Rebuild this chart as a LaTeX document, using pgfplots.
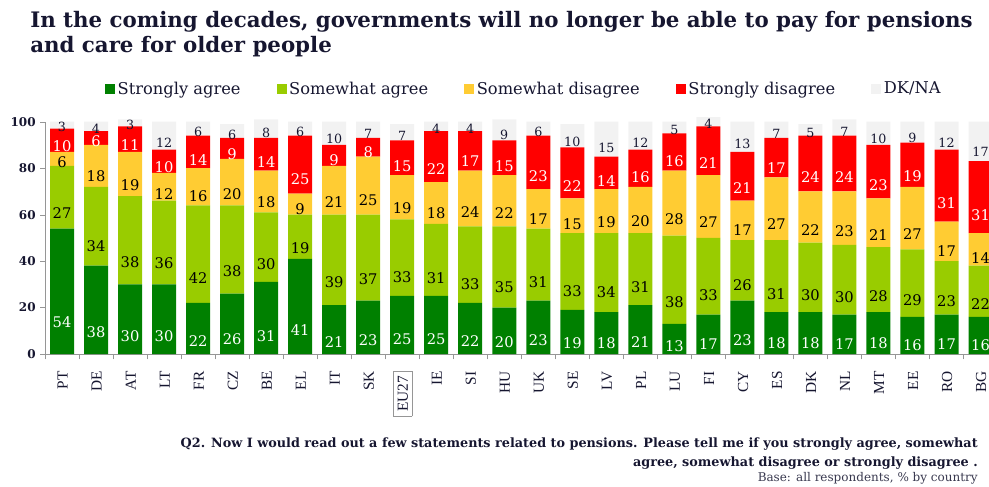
\documentclass[border=0pt]{standalone}
\usepackage{pgfplots}
\usepackage{pgfplotstable}
\pgfplotsset{compat=1.18}
\usepackage{fontspec}
\setmainfont{DejaVu Serif}
\newfontfamily\tickfont{Liberation Serif}
\definecolor{cSA}{RGB}{0,128,0}
\definecolor{cSwA}{RGB}{153,204,0}
\definecolor{cSwD}{RGB}{255,204,51}
\definecolor{cSD}{RGB}{255,0,0}
\definecolor{cDK}{RGB}{242,242,242}
\definecolor{txt}{RGB}{22,22,48}
\definecolor{axc}{RGB}{150,150,150}
\pgfplotstableread{
idx sa swa swd sd dk
0 54 27 6 10 3
1 38 34 18 6 4
2 30 38 19 11 3
3 30 36 12 10 12
4 22 42 16 14 6
5 26 38 20 9 6
6 31 30 18 14 8
7 41 19 9 25 6
8 21 39 21 9 10
9 23 37 25 8 7
10 25 33 19 15 7
11 25 31 18 22 4
12 22 33 24 17 4
13 20 35 22 15 9
14 23 31 17 23 6
15 19 33 15 22 10
16 18 34 19 14 15
17 21 31 20 16 12
18 13 38 28 16 5
19 17 33 27 21 4
20 23 26 17 21 13
21 18 31 27 17 7
22 18 30 22 24 5
23 17 30 23 24 7
24 18 28 21 23 10
25 16 29 27 19 9
26 17 23 17 31 12
27 16 22 14 31 17
}\data
\pgfplotsset{
  lbl/.style n args={2}{
    nodes near coords={\pgfmathprintnumber{\val}},
    nodes near coords align={center},
    nodes near coords style={font=#1, text=#2, anchor=center, inner sep=0pt, yshift={-0.4355*\val}}
  }
}
\begin{document}
\begin{tikzpicture}
\begin{axis}[
  at={(33.75pt,99pt)}, anchor=south west,
  scale only axis, width=714.4pt, height=174.2pt,
  ybar stacked, bar width=18pt,
  xmin=-0.5, xmax=27.5, ymin=0, ymax=100,
  clip=false,
  visualization depends on={rawy \as \val},
  axis x line*=bottom, axis y line*=left,
  axis line style={draw=axc},
  xtick={0,...,27},
  xticklabels={PT,DE,AT,LT,FR,CZ,BE,EL,IT,SK,{\fcolorbox{axc}{white}{EU27}},IE,SI,HU,UK,SE,LV,PL,LU,FI,CY,ES,DK,NL,MT,EE,RO,BG},
  minor xtick={-0.5,0.5,...,27.5},
  major x tick style={draw=none},
  minor x tick style={draw=axc},
  tick align=outside,
  minor tick length=4pt,
  major tick length=3.5pt,
  ytick={0,20,...,100},
  y tick style={draw=axc},
  xticklabel style={font=\tickfont\fontsize{11.5}{12}\selectfont, rotate=90, anchor=east, text=txt, xshift=-6pt, yshift=-0.5pt},
  yticklabel style={font=\bfseries\fontsize{9}{10}\selectfont, text=txt},
  /pgf/number format/assume math mode=true,
  legend columns=5,
  legend style={at={(0.503,1.141)}, anchor=center, draw=none, fill=none,
    font=\fontsize{12.2}{14}\selectfont, text=txt,
    /tikz/every even column/.append style={column sep=25pt}},
  legend image code/.code={\fill[#1] (-2pt,-3.75pt) rectangle (5.5pt,3.75pt);},
]
\addplot[fill=cSA, draw=none, lbl={\fontsize{11}{12}\selectfont}{white}] table[x=idx,y=sa]{\data};
\addplot[fill=cSwA, draw=none, lbl={\fontsize{11}{12}\selectfont}{black}] table[x=idx,y=swa]{\data};
\addplot[fill=cSwD, draw=none, lbl={\fontsize{11}{12}\selectfont}{black}] table[x=idx,y=swd]{\data};
\addplot[fill=cSD, draw=none, lbl={\fontsize{11}{12}\selectfont}{white}] table[x=idx,y=sd]{\data};
\addplot[fill=cDK, draw=none, lbl={\fontsize{9.5}{10}\selectfont}{txt}] table[x=idx,y=dk]{\data};
\legend{Strongly agree, Somewhat agree, Somewhat disagree, Strongly disagree, DK/NA}
\end{axis}
\node[anchor=base west, inner sep=0pt, text=txt, font=\bfseries\fontsize{16}{18}\selectfont] at (22.5pt,343.5pt) {In the coming decades, governments will no longer be able to pay for pensions};
\node[anchor=base west, inner sep=0pt, text=txt, font=\bfseries\fontsize{16}{18}\selectfont] at (22.5pt,324.75pt) {and care for older people};
\node[anchor=base east, inner sep=0pt, text=txt, font=\bfseries\fontsize{9.6}{11}\selectfont] at (733.5pt,29.25pt) {Q2. Now I would read out a few statements related to pensions. Please tell me if you strongly agree, somewhat};
\node[anchor=base east, inner sep=0pt, text=txt, font=\bfseries\fontsize{9.6}{11}\selectfont] at (733.5pt,15pt) {agree, somewhat disagree or strongly disagree .};
\node[anchor=base east, inner sep=0pt, text=txt!85, font=\fontsize{9}{10}\selectfont] at (733.5pt,3.75pt) {Base: all respondents, \% by country};
\pgfresetboundingbox
\path[use as bounding box] (0pt,0pt) rectangle (741.75pt,364.5pt);
\end{tikzpicture}
\end{document}
